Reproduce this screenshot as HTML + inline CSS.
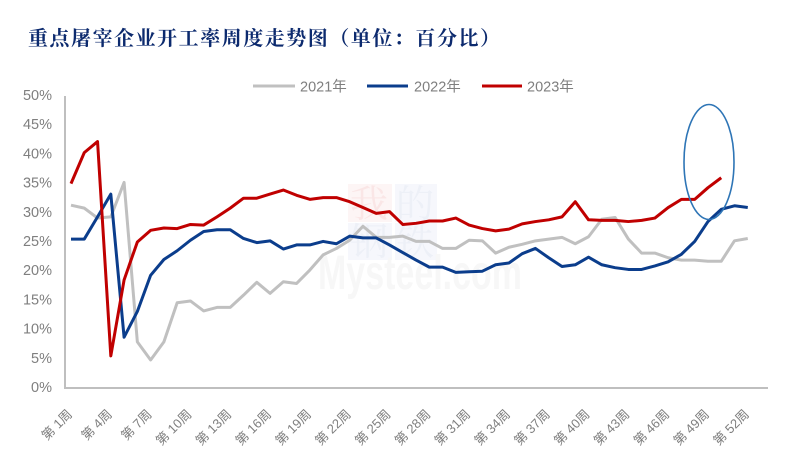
<!DOCTYPE html>
<html><head><meta charset="utf-8">
<style>
html,body{margin:0;padding:0;background:#fff;}
svg{display:block;}
.yl{font-family:"Liberation Sans","Noto Sans CJK SC",sans-serif;font-size:14.5px;fill:#7f7f7f;}
.xl{font-family:"Liberation Sans","Noto Sans CJK SC",sans-serif;font-size:13px;fill:#7f7f7f;}
.lg{font-family:"Liberation Sans","Noto Sans CJK SC",sans-serif;font-size:14.5px;fill:#7f7f7f;}
</style></head>
<body>
<svg width="786" height="468" viewBox="0 0 786 468" xmlns="http://www.w3.org/2000/svg">
<rect width="786" height="468" fill="#fff"/>
<!-- title -->
<text x="28" y="45" textLength="472" lengthAdjust="spacing" style="font-family:'Noto Serif CJK SC','Liberation Serif',serif;font-weight:bold;font-size:20px;fill:#0c2a6e;">重点屠宰企业开工率周度走势图（单位：百分比）</text>

<!-- watermark -->
<g>
<rect x="348" y="184" width="44" height="38" fill="#fdf5f5"/>
<rect x="395" y="184" width="42" height="38" fill="#f6f7fc"/>
<rect x="348" y="223" width="44" height="37" fill="#f6f7fc"/>
<rect x="395" y="223" width="42" height="37" fill="#f6f7fc"/>
<text x="350" y="217" style="font-family:'Noto Serif CJK SC',serif;font-size:38px;fill:#fae6e6;">我</text>
<text x="396" y="217" style="font-family:'Noto Serif CJK SC',serif;font-size:38px;fill:#edf0f7;">的</text>
<text x="350" y="255" style="font-family:'Noto Serif CJK SC',serif;font-size:38px;fill:#edf0f7;">钢</text>
<text x="396" y="255" style="font-family:'Noto Serif CJK SC',serif;font-size:38px;fill:#edf0f7;">铁</text>
<text x="318" y="289" textLength="204" lengthAdjust="spacingAndGlyphs" style="font-family:'Liberation Sans',sans-serif;font-weight:bold;font-size:48px;fill:#f7f7f7;">Mysteel.com</text>
</g>

<!-- axes -->
<line x1="65" y1="96" x2="65" y2="389" stroke="#bfbfbf" stroke-width="2"/>
<line x1="64" y1="388" x2="768" y2="388" stroke="#bfbfbf" stroke-width="2"/>

<!-- y labels -->
<g class="yl" text-anchor="end" dominant-baseline="central">
<text x="52" y="96">50%</text>
<text x="52" y="125.2">45%</text>
<text x="52" y="154.4">40%</text>
<text x="52" y="183.6">35%</text>
<text x="52" y="212.8">30%</text>
<text x="52" y="242">25%</text>
<text x="52" y="271.2">20%</text>
<text x="52" y="300.4">15%</text>
<text x="52" y="329.6">10%</text>
<text x="52" y="358.8">5%</text>
<text x="52" y="388">0%</text>
</g>

<!-- x labels -->
<g class="xl" text-anchor="end">
<text transform="translate(73,415) rotate(-45)">第 1周</text>
<text transform="translate(112.8,415) rotate(-45)">第 4周</text>
<text transform="translate(152.6,415) rotate(-45)">第 7周</text>
<text transform="translate(192.4,415) rotate(-45)">第 10周</text>
<text transform="translate(232.2,415) rotate(-45)">第 13周</text>
<text transform="translate(272.1,415) rotate(-45)">第 16周</text>
<text transform="translate(311.9,415) rotate(-45)">第 19周</text>
<text transform="translate(351.7,415) rotate(-45)">第 22周</text>
<text transform="translate(391.5,415) rotate(-45)">第 25周</text>
<text transform="translate(431.3,415) rotate(-45)">第 28周</text>
<text transform="translate(471.1,415) rotate(-45)">第 31周</text>
<text transform="translate(510.9,415) rotate(-45)">第 34周</text>
<text transform="translate(550.7,415) rotate(-45)">第 37周</text>
<text transform="translate(590.5,415) rotate(-45)">第 40周</text>
<text transform="translate(630.3,415) rotate(-45)">第 43周</text>
<text transform="translate(670.2,415) rotate(-45)">第 46周</text>
<text transform="translate(710,415) rotate(-45)">第 49周</text>
<text transform="translate(749.8,415) rotate(-45)">第 52周</text>
</g>

<!-- series -->
<g transform="matrix(13.27 0 0 -5.84 57.73 388)" fill="none" stroke-linejoin="round" stroke-linecap="butt">
<polyline vector-effect="non-scaling-stroke" stroke="#c0c0c0" stroke-width="3" points="1,31.3 2,30.8 3,29.1 4,29.3 5,35.2 6,7.9 7,4.8 8,7.9 9,14.6 10,14.9 11,13.2 12,13.8 13,13.8 14,15.9 15,18.1 16,16.2 17,18.2 18,17.9 19,20.2 20,22.8 21,23.9 22,25.3 23,27.7 24,25.8 25,25.8 26,26.0 27,25.1 28,25.1 29,23.9 30,23.9 31,25.3 32,25.2 33,23.1 34,24.1 35,24.6 36,25.2 37,25.5 38,25.8 39,24.7 40,25.9 41,28.9 42,29.2 43,25.5 44,23.1 45,23.1 46,22.3 47,21.9 48,21.9 49,21.7 50,21.7 51,25.2 52,25.6"/>
<polyline vector-effect="non-scaling-stroke" stroke="#0b3d8c" stroke-width="3" points="1,25.5 2,25.5 3,29.3 4,33.2 5,8.7 6,13.1 7,19.3 8,22.0 9,23.5 10,25.3 11,26.8 12,27.1 13,27.1 14,25.6 15,24.9 16,25.2 17,23.8 18,24.5 19,24.5 20,25.1 21,24.7 22,26.0 23,25.7 24,25.7 25,24.5 26,23.2 27,21.9 28,20.7 29,20.7 30,19.8 31,19.9 32,20.0 33,21.1 34,21.4 35,23.0 36,23.9 37,22.3 38,20.8 39,21.1 40,22.4 41,21.1 42,20.6 43,20.3 44,20.3 45,20.9 46,21.6 47,22.9 48,25.1 49,28.5 50,30.6 51,31.2 52,30.9"/>
<polyline vector-effect="non-scaling-stroke" stroke="#c00000" stroke-width="3" points="1,35.0 2,40.3 3,42.2 4,5.5 5,18.5 6,25.0 7,27.0 8,27.4 9,27.3 10,28.0 11,27.9 12,29.3 13,30.8 14,32.5 15,32.5 16,33.2 17,33.9 18,33.0 19,32.3 20,32.6 21,32.6 22,31.9 23,30.9 24,29.9 25,30.2 26,28.0 27,28.2 28,28.6 29,28.6 30,29.1 31,27.9 32,27.3 33,26.9 34,27.2 35,28.1 36,28.5 37,28.8 38,29.3 39,31.9 40,28.8 41,28.7 42,28.7 43,28.5 44,28.7 45,29.1 46,30.9 47,32.3 48,32.3 49,34.3 50,36.0"/>
</g>

<!-- ellipse highlight -->
<ellipse cx="709" cy="162" rx="25" ry="57.5" fill="none" stroke="#2e75b6" stroke-width="1.6"/>

<!-- legend -->
<line x1="253" y1="86" x2="295" y2="86" stroke="#c0c0c0" stroke-width="3"/>
<text class="lg" x="300" y="91.5">2021年</text>
<line x1="367" y1="86" x2="408" y2="86" stroke="#0b3d8c" stroke-width="3"/>
<text class="lg" x="414" y="91.5">2022年</text>
<line x1="482" y1="86" x2="522" y2="86" stroke="#c00000" stroke-width="3"/>
<text class="lg" x="527" y="91.5">2023年</text>
</svg>
</body></html>
